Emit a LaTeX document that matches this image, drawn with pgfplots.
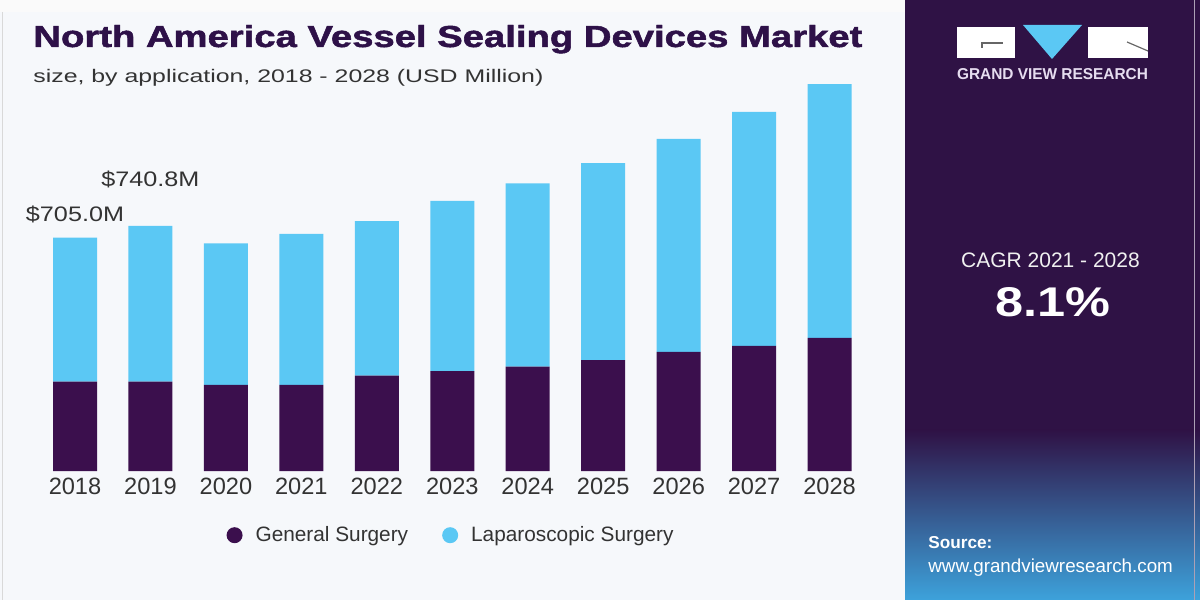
\documentclass[border=0pt]{standalone}
\usepackage{fontspec}
\setmainfont{Liberation Sans}
\newfontfamily\heavyfont[BoldFeatures={FakeBold=1.5}]{Liberation Sans}
\usepackage{graphicx}
\usepackage{pgfplots}
\pgfplotsset{compat=1.18}

\definecolor{bgleft}{HTML}{F6F8FB}
\definecolor{bgtop}{HTML}{FAFAFA}
\definecolor{titlecol}{HTML}{2E1148}
\definecolor{textgray}{HTML}{333333}
\definecolor{gencol}{HTML}{3B0F4D}
\definecolor{lapcol}{HTML}{5BC8F4}
\definecolor{panel}{HTML}{2F1245}
\definecolor{panelmid}{HTML}{3F4A94}
\definecolor{panelbot}{HTML}{3DA2DB}
\definecolor{logotext}{HTML}{E6DDF0}

\newcommand{\vlab}[1]{\scalebox{1.2}[1]{\fontsize{10.5}{12}\selectfont #1}}

\begin{document}
\begin{tikzpicture}
% backgrounds, pixel coordinates from top-left
\begin{scope}[x=0.5pt,y=-0.5pt,shift={(0,300pt)}]
  \fill[bgleft] (0,0) rectangle (905,600);
  \fill[bgtop] (0,0) rectangle (905,12);
  \draw[color=black!15, line width=0.5pt] (2,12) -- (2,600);
  \fill[panel] (905,0) rectangle (1200,600);
  \shade[top color=panel, middle color=panelmid, bottom color=panelbot] (905,430) rectangle (1200,600);
  \draw[color=white!60!panel, line width=0.5pt] (1194,0) -- (1194,600);
  % logo
  \fill[white] (957,27) rectangle (1015,58);
  \fill[white] (1088,27) rectangle (1148,58);
  \fill[lapcol] (1023,25) -- (1082,25) -- (1052,59) -- cycle;
  \draw[color=black!60, line width=0.6pt] (982,48) -- (982,43) -- (1003,43);
  \draw[color=black!60, line width=0.6pt] (1127,42) -- (1148,51);
  \node[anchor=center, inner sep=0, text=logotext] at (1052.5,74.5)
     {\resizebox{95.5pt}{5.5pt}{\bfseries GRAND VIEW RESEARCH}};
  % CAGR
  \node[anchor=base, inner sep=0, text=white!94!black] at (1050.5,268)
     {\fontsize{10.5}{12}\selectfont CAGR 2021 - 2028};
  \node[anchor=base, inner sep=0, text=white] at (1052.5,317)
     {\resizebox{57.5pt}{14.5pt}{\bfseries 8.1\%}};
  % source
  \node[anchor=base west, inner sep=0, text=white] at (928,549)
     {\fontsize{8.6}{10}\selectfont\bfseries Source:};
  \node[anchor=base west, inner sep=0, text=white] at (928,573)
     {\fontsize{9.4}{11}\selectfont www.grandviewresearch.com};
  % titles
  \node[anchor=base west, inner sep=0, text=titlecol] at (33,47)
     {\resizebox{414.5pt}{11pt}{\heavyfont\bfseries North America Vessel Sealing Devices Market}};
  \node[anchor=base west, inner sep=0, text=textgray] at (33,83)
     {\resizebox{255pt}{6.6pt}{size, by application, 2018 - 2028 (USD Million)}};
\end{scope}

\begin{axis}[
  at={(0,0)}, anchor=south west,
  scale only axis, width=452.5pt, height=300pt,
  xmin=-0.994, xmax=11.0, ymin=-389.7, ymax=1422.9,
  ybar stacked, bar width=22pt,
  axis line style={draw=none}, tick style={draw=none},
  major tick length=0pt,
  ytick=\empty,
  xtick={0,1,2,3,4,5,6,7,8,9,10},
  xticklabels={2018,2019,2020,2021,2022,2023,2024,2025,2026,2027,2028},
  xticklabel style={anchor=base, yshift=52.5pt, font=\fontsize{11.8}{14}\selectfont, text=textgray},
  clip=false,
  legend columns=2,
  legend style={at={(0.4995,0.108)}, anchor=center, draw=none, fill=none,
    font=\fontsize{10.4}{12}\selectfont, text=textgray,
    /tikz/every odd column/.append style={column sep=4.5pt},
    /tikz/every even column/.append style={column sep=15pt}},
]
\addplot[fill=gencol, draw=none,
  legend image code/.code={\fill[gencol] (0pt,0pt) circle (4pt);}]
  coordinates {(0,270) (1,270) (2,260) (3,260) (4,288) (5,302) (6,315) (7,335) (8,360) (9,378) (10,402)};
\addlegendentry{General Surgery}
\addplot[fill=lapcol, draw=none,
  legend image code/.code={\fill[lapcol] (0pt,0pt) circle (4pt);}]
  coordinates {(0,435) (1,470.8) (2,428) (3,456) (4,467) (5,514) (6,554) (7,595) (8,643) (9,707) (10,767)};
\addlegendentry{Laparoscopic Surgery}
\node[anchor=base, inner sep=0, text=textgray] at (axis cs:0,753) {\vlab{\$705.0M}};
\node[anchor=base, inner sep=0, text=textgray] at (axis cs:1,858) {\vlab{\$740.8M}};
\end{axis}
\pgfresetboundingbox
\path[use as bounding box] (0,0) rectangle (600pt,300pt);
\end{tikzpicture}
\end{document}
